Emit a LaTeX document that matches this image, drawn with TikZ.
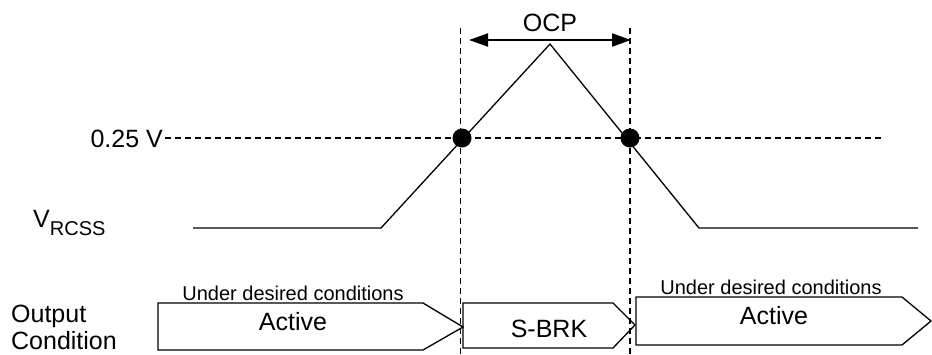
\documentclass[tikz,border=0pt]{standalone}
\usepackage{fontspec}
\setmainfont{Liberation Sans}
\usetikzlibrary{arrows.meta}
\begin{document}
\begin{tikzpicture}[x=1pt,y=-1pt,
  guide/.style={line width=1.2pt,dash pattern=on 6pt off 4pt},
  wave/.style={line width=1.3pt},
  statebox/.style={line width=1.3pt,line join=miter},
  big/.style={inner sep=0pt,font=\fontsize{25}{30}\selectfont},
  small/.style={inner sep=0pt,font=\fontsize{20}{24}\selectfont},
  dot/.style={circle,fill=black,inner sep=0pt,minimum size=19pt}]
\useasboundingbox (0,0) rectangle (932,354);
% guides
\coordinate (vl1) at (460.5,28);
\coordinate (vl2) at (460.5,354);
\coordinate (vr1) at (630,28);
\coordinate (vr2) at (630,354);
\coordinate (h1) at (165,138);
\coordinate (h2) at (884,138);
\draw[guide] (vl1) -- (vl2);
\draw[guide] (vr1) -- (vr2);
\draw[guide] (h1) -- (h2);
% waveform
\coordinate (w0) at (193,228);
\coordinate (w1) at (381,228);
\coordinate (wp) at (550,44);
\coordinate (w2) at (699,228);
\coordinate (w3) at (918,228);
\draw[wave,line join=miter] (w0) -- (w1) -- (wp) -- (w2) -- (w3);
\node[dot] (d1) at (462,138) {};
\node[dot] (d2) at (630,138) {};
% OCP arrow
\coordinate (a1) at (469,40);
\coordinate (a2) at (631,40);
\draw[line width=2pt,{Triangle[length=19pt,width=13pt]}-{Triangle[length=19pt,width=13pt]}] (a1) -- (a2);
\node[big,anchor=base] (ocp) at (550,31.5) {OCP};
% labels
\node[big,anchor=base east] (thr) at (163,147) {0.25 V};
\node[big,anchor=base west] (vr) at (33,227) {V\raisebox{-8pt}{\fontsize{20}{24}\selectfont RCSS}};
\node[big,anchor=base west] (oc1) at (11,322) {Output};
\node[big,anchor=base west] (oc2) at (11,349) {Condition};
% state boxes
\draw[statebox] (158,303) -- (423,303) -- (463,327) -- (423,350) -- (158,350) -- cycle;
\draw[statebox] (463,303) -- (613,303) -- (635,325) -- (613,348) -- (463,348) -- cycle;
\draw[statebox] (636,297) -- (902,297) -- (931,321) -- (902,345) -- (636,345) -- cycle;
\node[small,anchor=base] (u1) at (293,300) {Under desired conditions};
\node[big,anchor=base] (act1) at (293,330) {Active};
\node[big,anchor=base] (sbrk) at (549,337) {S-BRK};
\node[small,anchor=base] (u3) at (771,294) {Under desired conditions};
\node[big,anchor=base] (act3) at (774,324) {Active};
\end{tikzpicture}
\end{document}
